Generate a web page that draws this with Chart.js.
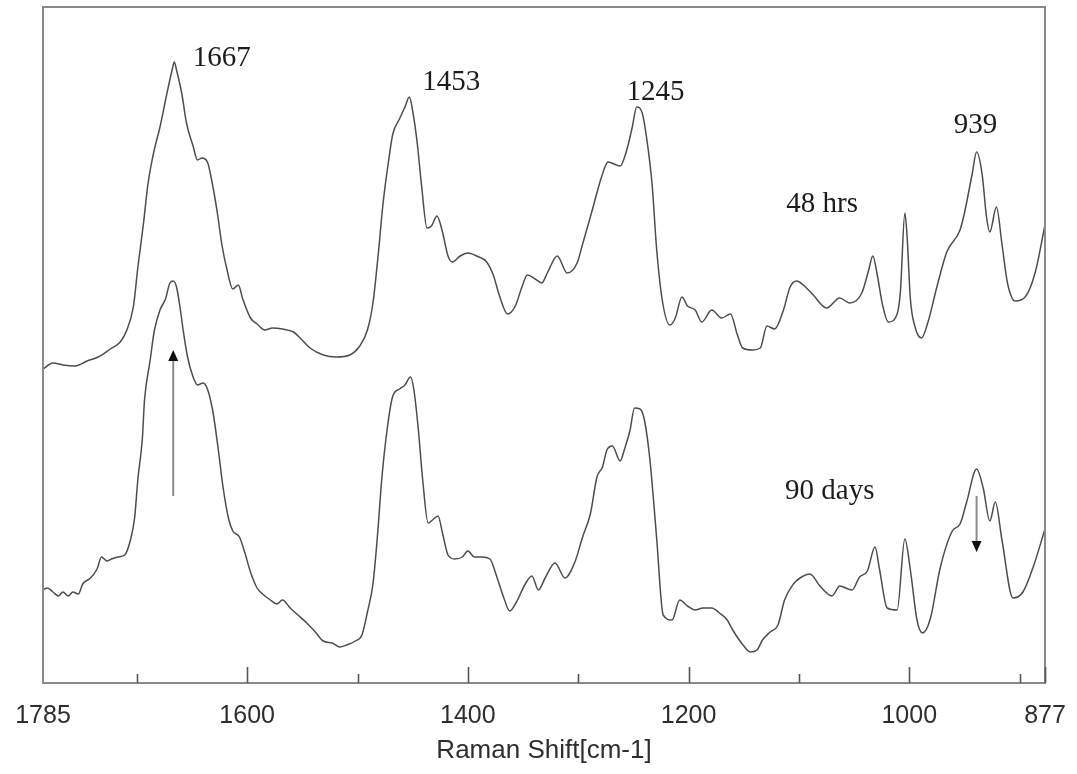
<!DOCTYPE html>
<html>
<head>
<meta charset="utf-8">
<script src="https://cdn.jsdelivr.net/npm/chart.js@4.4.1/dist/chart.umd.min.js"></script>
<style>
  html, body { margin: 0; padding: 0; background: #ffffff; overflow: hidden; }
  #wrap { width: 1077px; height: 774px; position: relative; }
  #c { display: block; }
</style>
</head>
<body>
<div id="wrap"><canvas id="c"></canvas></div>
<script>
// ---- data (Raman shift in cm-1, intensity in a.u.) ----
const wavenumbers48 = [1785,1776,1767,1756,1745,1735,1724,1715,1709,1703,1699,1694,1690,1685,1679,1673,1668,1666,1664,1659,1655,1649,1645,1641,1636,1632,1627,1623,1618,1613,1608,1604,1597,1591,1584,1577,1568,1558,1552,1543,1531,1519,1507,1498,1491,1486,1481,1477,1472,1468,1462,1457,1453,1450,1446,1442,1437,1433,1428,1423,1418,1414,1407,1400,1392,1383,1377,1371,1364,1357,1351,1346,1339,1333,1328,1319,1310,1301,1296,1288,1278,1273,1262,1256,1251,1247,1242,1238,1233,1229,1224,1217,1212,1206,1201,1194,1188,1179,1170,1162,1156,1151,1142,1135,1129,1122,1114,1108,1102,1096,1087,1075,1063,1054,1043,1037,1033,1029,1024,1019,1011,1008,1004,1002,999,995,989,983,975,966,954,950,943,939,934,930,927,921,916,911,904,895,886,877];
const intensity48 = [314,320,318,317,322,326,334,341,353,377,416,459,498,529,556,588,613,621,613,588,560,537,523,525,521,502,470,439,412,394,398,384,365,359,353,355,354,351,345,335,328,326,328,337,353,380,431,478,521,549,564,576,586,572,541,498,455,457,467,451,427,421,427,430,427,421,408,386,369,377,396,408,404,400,410,427,410,420,439,470,509,521,517,533,556,576,570,545,498,435,384,358,365,386,377,373,361,373,365,369,349,335,333,335,357,354,373,396,402,398,388,375,385,380,390,412,427,408,377,361,369,392,470,447,384,357,345,361,396,431,453,470,509,531,509,466,451,476,439,400,382,386,410,458];

const wavenumbers90 = [1785,1781,1776,1771,1767,1762,1758,1753,1749,1742,1736,1732,1727,1723,1717,1711,1706,1702,1699,1695,1693,1688,1684,1679,1674,1670,1667,1664,1661,1658,1654,1649,1645,1640,1636,1631,1626,1622,1617,1613,1607,1602,1597,1591,1586,1579,1573,1568,1561,1554,1546,1539,1531,1523,1516,1510,1502,1496,1491,1486,1482,1478,1473,1468,1462,1457,1452,1449,1445,1441,1436,1432,1427,1423,1418,1412,1405,1400,1394,1387,1380,1374,1368,1362,1356,1348,1342,1336,1330,1321,1312,1303,1296,1289,1283,1278,1274,1269,1262,1258,1253,1249,1244,1240,1235,1229,1223,1215,1208,1201,1194,1187,1179,1172,1165,1160,1152,1144,1138,1133,1126,1119,1113,1105,1099,1090,1081,1070,1063,1052,1045,1038,1031,1027,1020,1011,1004,999,993,988,981,972,961,954,948,939,933,927,922,916,906,897,888,877];
const intensity90 = [93,95,91,87,91,87,91,89,99,105,114,126,122,124,126,128,142,165,204,244,283,322,353,373,384,400,402,396,377,353,326,306,298,300,294,271,232,197,165,152,146,130,111,95,89,83,79,83,75,68,60,52,42,40,36,38,42,48,71,99,146,204,255,287,294,298,306,294,255,204,160,163,167,150,128,124,126,132,126,126,124,107,87,72,81,99,107,93,105,120,105,121,146,169,206,216,233,237,222,234,253,275,274,263,223,146,68,63,83,77,73,75,75,70,63,53,40,31,33,43,51,58,83,99,105,109,97,87,97,93,106,112,136,114,75,73,144,113,63,50,64,115,152,159,181,214,195,162,181,143,85,91,115,154];

const seriesNames = ['48 hrs', '90 days'];
const tickValues = [1785, 1600, 1400, 1200, 1000, 877];
const tickLabels = ['1785', '1600', '1400', '1200', '1000', '877'];
const majorTickMarks = [1600, 1400, 1200, 1000, 877];
const minorTickMarks = [1700, 1500, 1300, 1100, 900];
const axisTitle = 'Raman Shift[cm-1]';

// text annotations placed in data space (wavenumber, intensity)
const annotations = [
  { text: '1667', x: 1623, y: 617 },
  { text: '1453', x: 1415, y: 593 },
  { text: '1245', x: 1230, y: 583 },
  { text: '939', x: 940, y: 550 },
  { text: seriesNames[0], x: 1079, y: 471 },
  { text: seriesNames[1], x: 1072, y: 184 }
];
// arrows: [wavenumber, from intensity, to intensity]
const arrows = [
  { x: 1667, from: 187, to: 333 },
  { x: 939, from: 187, to: 131 }
];

function toXY(xs, ys) { return xs.map((v, i) => ({ x: v, y: ys[i] })); }

const framePlugin = {
  id: 'frame',
  afterDatasetsDraw(chart) {
    const { ctx, chartArea: a, scales } = chart;
    const xs = scales.x, ys = scales.y;
    ctx.save();
    ctx.strokeStyle = '#8a8a8a';
    ctx.lineWidth = 2;
    ctx.strokeRect(a.left, a.top, a.right - a.left, a.bottom - a.top);
    ctx.strokeStyle = '#555555';
    ctx.lineWidth = 1.6;
    const drawTick = (v, len) => {
      const px = Math.round(xs.getPixelForValue(v)) + 0.5;
      ctx.beginPath();
      ctx.moveTo(px, a.bottom);
      ctx.lineTo(px, a.bottom - len);
      ctx.stroke();
    };
    majorTickMarks.forEach(v => drawTick(v, 16));
    minorTickMarks.forEach(v => drawTick(v, 9));
    ctx.fillStyle = '#1c1c1c';
    ctx.font = '29px "Liberation Serif", "Times New Roman", serif';
    ctx.textAlign = 'center';
    ctx.textBaseline = 'alphabetic';
    annotations.forEach(t => {
      ctx.fillText(t.text, xs.getPixelForValue(t.x), ys.getPixelForValue(t.y));
    });
    arrows.forEach(ar => {
      const px = xs.getPixelForValue(ar.x);
      const y0 = ys.getPixelForValue(ar.from);
      const y1 = ys.getPixelForValue(ar.to);
      const dir = y1 < y0 ? -1 : 1;
      const headLen = 11, headHalf = 5;
      ctx.strokeStyle = '#8c8c8c';
      ctx.lineWidth = 2;
      ctx.beginPath();
      ctx.moveTo(px, y0);
      ctx.lineTo(px, y1 - dir * headLen);
      ctx.stroke();
      ctx.fillStyle = '#111111';
      ctx.beginPath();
      ctx.moveTo(px, y1);
      ctx.lineTo(px - headHalf, y1 - dir * headLen);
      ctx.lineTo(px + headHalf, y1 - dir * headLen);
      ctx.closePath();
      ctx.fill();
    });
    ctx.restore();
  }
};

new Chart(document.getElementById('c'), {
  type: 'line',
  data: {
    datasets: [
      { label: seriesNames[0], data: toXY(wavenumbers48, intensity48) },
      { label: seriesNames[1], data: toXY(wavenumbers90, intensity90) }
    ]
  },
  options: {
    responsive: true,
    maintainAspectRatio: false,
    animation: false,
    events: [],
    layout: { padding: { left: 43, right: 32, top: 7, bottom: 0 } },
    elements: {
      line: { borderColor: '#4d4d4d', borderWidth: 1.5, cubicInterpolationMode: 'monotone', fill: false },
      point: { radius: 0 }
    },
    plugins: { legend: { display: false }, tooltip: { enabled: false } },
    scales: {
      x: {
        type: 'linear',
        reverse: true,
        min: 877,
        max: 1785,
        offset: false,
        grid: { display: false, drawTicks: false },
        border: { display: false },
        afterBuildTicks: (scale) => { scale.ticks = tickValues.map(v => ({ value: v })); },
        afterFit: (scale) => { scale.height = 91; scale.paddingLeft = 0; scale.paddingRight = 0; },
        ticks: {
          autoSkip: false,
          maxRotation: 0,
          padding: 18,
          color: '#2e2e2e',
          font: { family: '"Liberation Sans", Arial, sans-serif', size: 25, lineHeight: 1.2 },
          callback: (value) => {
            const i = tickValues.indexOf(value);
            return i >= 0 ? tickLabels[i] : '';
          }
        },
        title: {
          display: true,
          text: axisTitle,
          color: '#2e2e2e',
          padding: { top: 0, bottom: 8 },
          font: { family: '"Liberation Sans", Arial, sans-serif', size: 26, lineHeight: 1.2 }
        }
      },
      y: {
        display: false,
        min: 0,
        max: 676
      }
    }
  },
  plugins: [framePlugin]
});
</script>
</body>
</html>
